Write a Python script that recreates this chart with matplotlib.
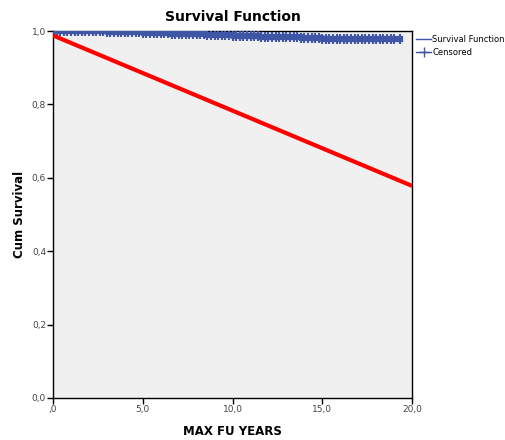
import matplotlib
matplotlib.use("Agg")
import matplotlib.pyplot as plt
from matplotlib.lines import Line2D
from matplotlib.ticker import FuncFormatter

# step survival estimate (time in years, cumulative survival)
step_times = [0.0, 1.5, 3.0, 5.0, 6.5, 8.5, 10.0, 11.5, 12.5, 13.8, 14.5, 15.0, 19.3]
step_surv = [1.0, 0.999, 0.997, 0.995, 0.993, 0.990, 0.987, 0.985, 0.984, 0.982, 0.980, 0.977, 0.977]

# censored follow-up times
censor_times = [
    0.2, 0.4, 0.6, 0.8, 1.0, 1.2, 1.4, 1.6, 1.8, 2.0, 2.2, 2.4, 2.6, 2.8, 3.0,
    3.2, 3.4, 3.6, 3.8, 4.0, 4.2, 4.4, 4.6, 4.8, 5.0, 5.2, 5.4, 5.6, 5.8, 6.0,
    6.2, 6.4, 6.6, 6.8, 7.0, 7.2, 7.4, 7.6, 7.8, 8.0, 8.2, 8.4, 8.6, 8.8, 9.0,
    9.2, 9.4, 9.6, 9.8, 10.0, 10.2, 10.4, 10.6, 10.8, 11.0, 11.2, 11.4, 11.6,
    11.8, 12.0, 12.2, 12.4, 12.6, 12.8, 13.0, 13.2, 13.4, 13.6, 13.8, 14.0,
    14.2, 14.4, 14.6, 14.8, 15.0, 15.2, 15.4, 15.6, 15.8, 16.0, 16.2, 16.4,
    16.6, 16.8, 17.0, 17.2, 17.4, 17.6, 17.8, 18.0, 18.2, 18.4, 18.6, 18.8,
    19.0, 19.3,
]

# reference line endpoints
ref_x = [0.0, 20.0]
ref_y = [0.988, 0.578]

x_ticks = [0, 5, 10, 15, 20]
y_ticks = [0.0, 0.2, 0.4, 0.6, 0.8, 1.0]

blue = "#3f55a5"

def surv_at(t):
    s = step_surv[0]
    for st, sv in zip(step_times, step_surv):
        if st <= t:
            s = sv
    return s

fig = plt.figure(figsize=(5.05, 4.4), dpi=100)
ax = fig.add_axes([0.105, 0.0955, 0.711, 0.834])
ax.set_facecolor("#f0f0f0")

ax.step(step_times, step_surv, where="post", color=blue, lw=4.5, zorder=3)
ax.plot(censor_times, [surv_at(t) for t in censor_times], ls="none",
        marker="|", ms=7, mew=1.5, color=blue, zorder=3)

ax.plot(ref_x, ref_y, color="#ff0000", lw=3, solid_capstyle="butt", zorder=4)

ax.set_xlim(0, 20)
ax.set_ylim(0, 1.0)
ax.set_xticks(x_ticks)
ax.set_yticks(y_ticks)

ax.xaxis.set_major_formatter(FuncFormatter(lambda v, p: ",0" if v == 0 else f"{v:.1f}".replace(".", ",")))
ax.yaxis.set_major_formatter(FuncFormatter(lambda v, p: f"{v:.1f}".replace(".", ",")))
ax.tick_params(direction="out", length=4, width=1, labelsize=6.5, labelcolor="#444444", pad=1)
ax.tick_params(top=False, right=False)
for sp in ax.spines.values():
    sp.set_color("black")
    sp.set_linewidth(1)

ax.set_title("Survival Function", fontsize=10, fontweight="bold", pad=7)
ax.set_xlabel("MAX FU YEARS", fontsize=8.5, fontweight="bold", labelpad=8)
ax.set_ylabel("Cum Survival", fontsize=8.5, fontweight="bold", labelpad=4)

handles = [
    Line2D([], [], color=blue, lw=1, drawstyle="steps-post"),
    Line2D([], [], color=blue, ls="-", lw=1, marker="+", ms=7),
]
leg = ax.legend(handles, ["Survival Function", "Censored"], loc="upper left",
                bbox_to_anchor=(1.0, 1.0), frameon=False, fontsize=6,
                handlelength=1.8, handletextpad=0.1, labelspacing=0.4,
                borderaxespad=0.1)

fig.savefig("out.png", dpi=100)
